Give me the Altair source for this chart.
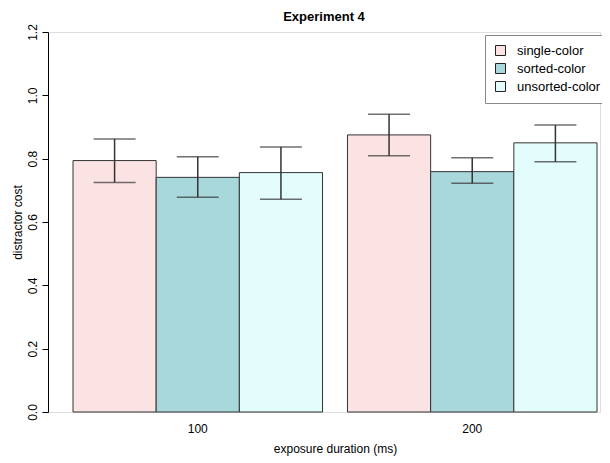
import altair as alt
import pandas as pd

durations = ["100", "100", "100", "200", "200", "200"]
conditions = ["single-color", "sorted-color", "unsorted-color"] * 2
cost = [0.794, 0.741, 0.756, 0.875, 0.759, 0.850]
err_low = [0.725, 0.678, 0.672, 0.809, 0.722, 0.790]
err_high = [0.862, 0.806, 0.837, 0.940, 0.803, 0.906]

cond_order = ["single-color", "sorted-color", "unsorted-color"]
fill_colors = ["#FCE3E3", "#A9D8DC", "#E3FCFC"]

df = pd.DataFrame({
    "duration": durations,
    "condition": conditions,
    "cost": cost,
    "lo": err_low,
    "hi": err_high,
})

FONT = "Liberation Sans"

x_enc = alt.X("duration:N",
              scale=alt.Scale(range=[25, 549], paddingInner=0.0909, paddingOuter=0),
              axis=alt.Axis(title="exposure duration (ms)", labelAngle=0, domain=False,
                            ticks=False, labelPadding=11, titlePadding=9,
                            labelFontSize=12, titleFontSize=12, labelFont=FONT,
                            titleFont=FONT, titleFontWeight="normal",
                            labelColor="#000", titleColor="#000"))
xo_enc = alt.XOffset("condition:N", sort=cond_order,
                     scale=alt.Scale(domain=cond_order, paddingInner=0, paddingOuter=0))
y_scale = alt.Scale(domain=[0, 1.2], nice=False, zero=True)

bars = alt.Chart(df).mark_bar(stroke="#333333", strokeWidth=1, opacity=1).encode(
    x=x_enc,
    xOffset=xo_enc,
    y=alt.Y("cost:Q", scale=y_scale,
            axis=alt.Axis(title="distractor cost", values=[0, 0.2, 0.4, 0.6, 0.8, 1.0, 1.2],
                          format=".1f", grid=False, labelAngle=-90, labelAlign="center",
                          labelBaseline="bottom", labelPadding=3, tickSize=6,
                          domainColor="#000", tickColor="#000", labelColor="#000",
                          titleColor="#000", labelFontSize=12, titleFontSize=12,
                          labelFont=FONT, titleFont=FONT, titleFontWeight="normal",
                          titlePadding=2)),
    fill=alt.Fill("condition:N", sort=cond_order,
                  scale=alt.Scale(domain=cond_order, range=fill_colors),
                  legend=alt.Legend(title=None, orient="none", legendX=437, legendY=3,
                                    strokeColor="#888", padding=9, symbolType="square",
                                    symbolSize=100, symbolStrokeColor="#222",
                                    symbolStrokeWidth=1, labelFontSize=13, labelFont=FONT,
                                    labelColor="#000", rowPadding=3, labelOffset=10,
                                    fillColor="white")),
)

rules = alt.Chart(df).mark_rule(color="#333333", strokeWidth=1.5).encode(
    x=alt.X("duration:N"),
    xOffset=alt.XOffset("condition:N", sort=cond_order),
    y=alt.Y("lo:Q", scale=y_scale),
    y2="hi:Q",
)

cap_lo = alt.Chart(df).mark_tick(color="#333333", thickness=1.5, size=42, orient="horizontal").encode(
    x=alt.X("duration:N"),
    xOffset=alt.XOffset("condition:N", sort=cond_order),
    y=alt.Y("lo:Q", scale=y_scale),
)
cap_hi = alt.Chart(df).mark_tick(color="#333333", thickness=1.5, size=42, orient="horizontal").encode(
    x=alt.X("duration:N"),
    xOffset=alt.XOffset("condition:N", sort=cond_order),
    y=alt.Y("hi:Q", scale=y_scale),
)

chart = alt.layer(bars, rules, cap_lo, cap_hi).properties(
    width=552,
    height=380,
    title=alt.Title("Experiment 4", fontSize=13, font=FONT, fontWeight="bold",
                    color="#000", anchor="middle", offset=0),
    autosize=alt.AutoSizeParams(type="none"),
    padding={"left": 40, "top": 24, "right": 2, "bottom": 51},
).configure_view(stroke=None).configure(background="white")

chart.save("out.html", embed_options={"renderer": "svg", "actions": False})
